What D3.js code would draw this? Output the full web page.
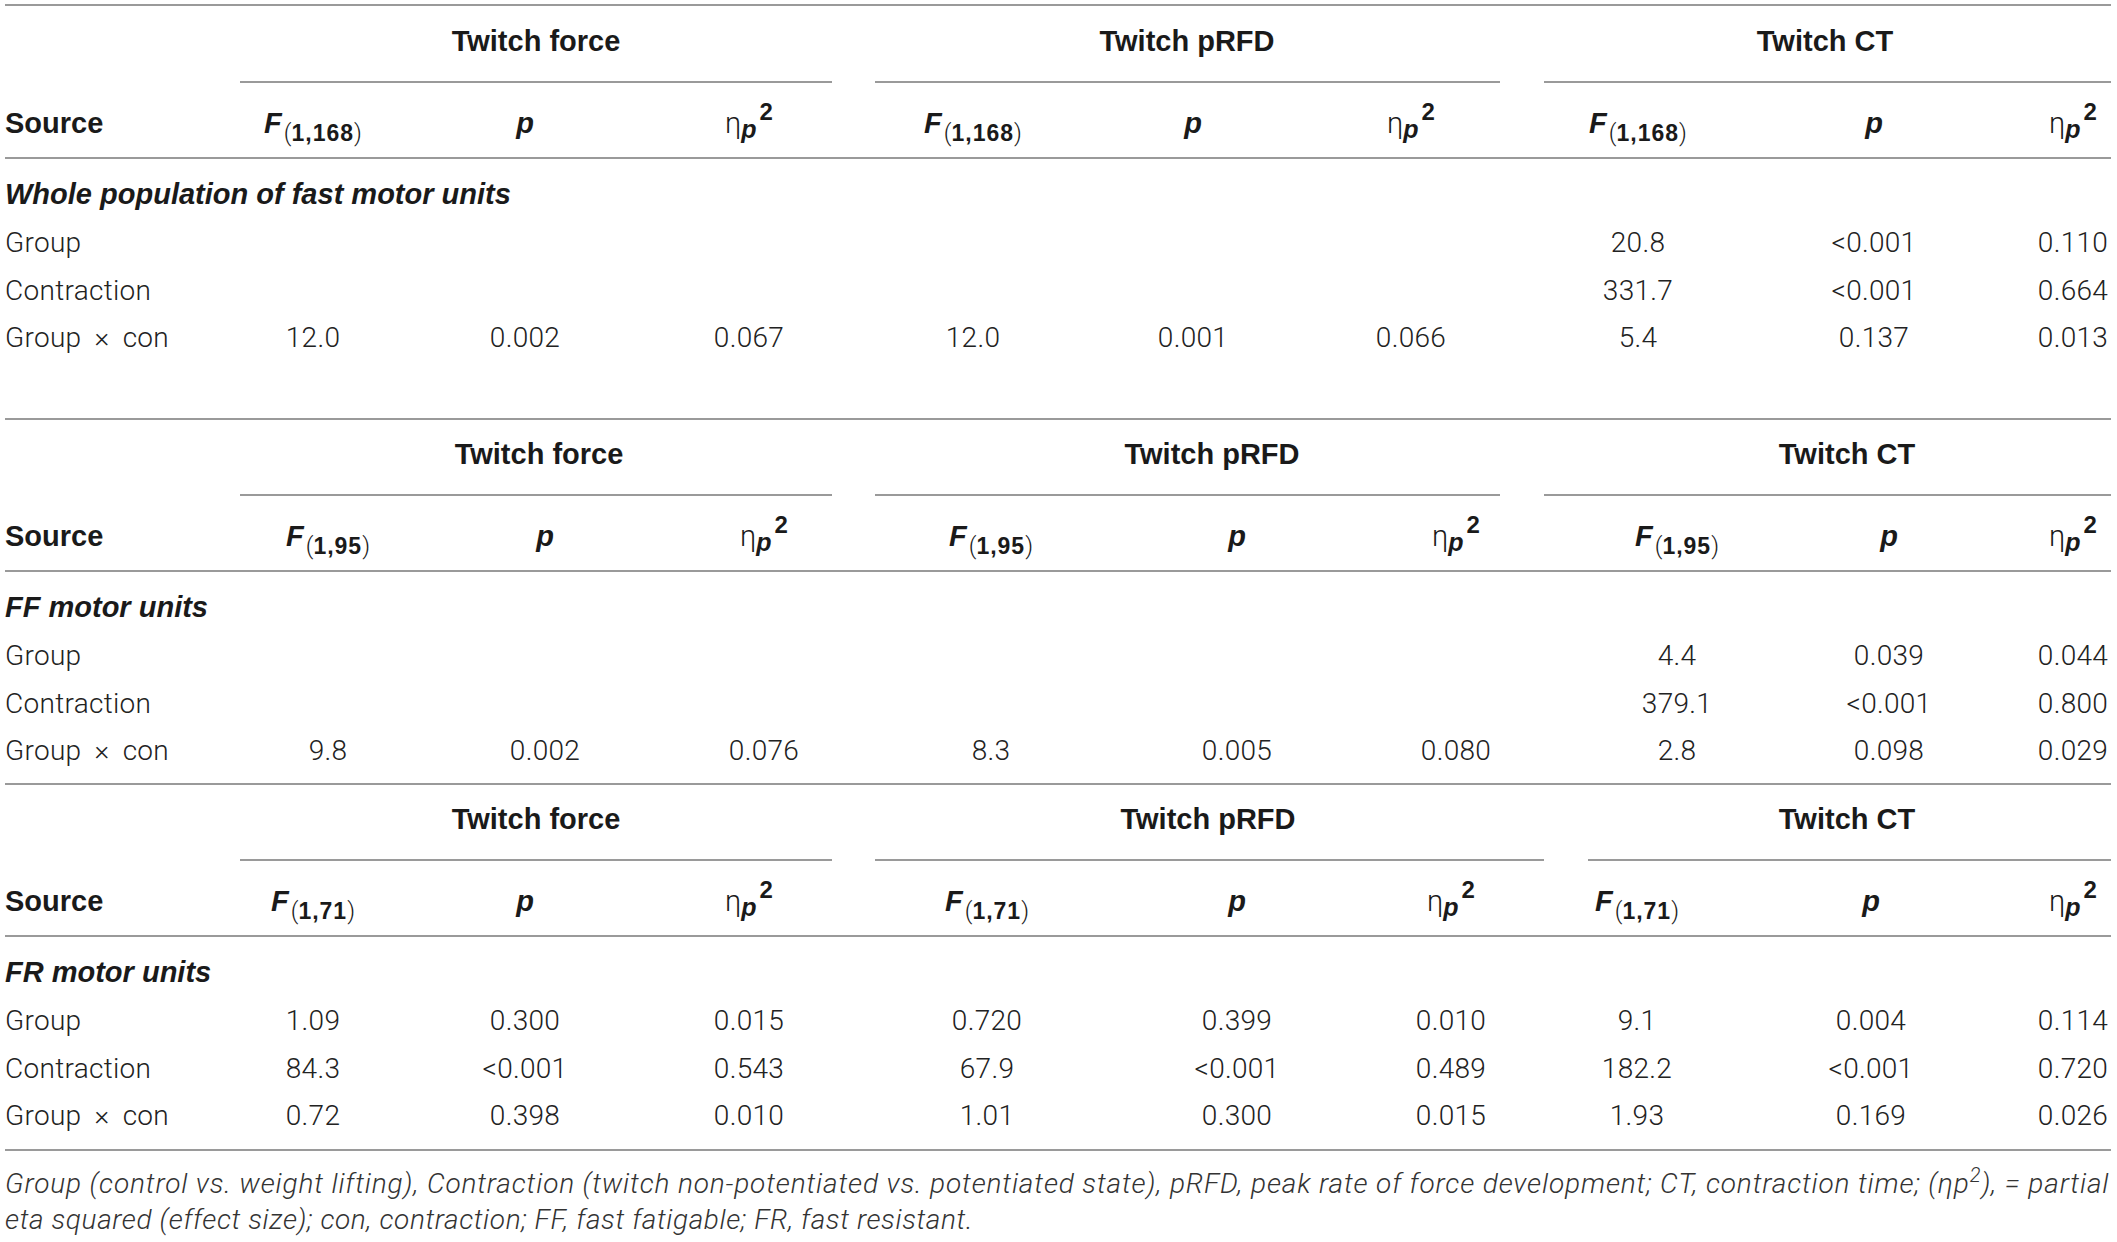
<!DOCTYPE html>
<html>
<head>
<meta charset="utf-8">
<script src="https://cdn.jsdelivr.net/npm/d3@7"></script>
<style>
  body { margin: 0; background: #fff; }
  svg { display: block; }
  .body { font-family: Roboto, "Liberation Sans", sans-serif; font-weight: 300; fill: #222; letter-spacing: 0.3px; word-spacing: 6px; }
  .bold { font-family: "Liberation Sans", Arial, sans-serif; font-weight: bold; fill: #1a1a1a; }
  .note { font-family: Roboto, "Liberation Sans", sans-serif; font-weight: 300; font-style: italic; fill: #333; letter-spacing: 0.6px; }
</style>
</head>
<body>
<div id="chart"></div>
<script>
// table content
var measures = ["Twitch force", "Twitch pRFD", "Twitch CT"];
var sections = ["Whole population of fast motor units", "FF motor units", "FR motor units"];
var degrees = ["1,168", "1,95", "1,71"];
var sources = ["Group", "Contraction", "Group \u00d7 con"];

// per row: F, p, eta for force / pRFD / CT (null = empty cell)
var wholeValues = [
    [null, null, null, null, null, null, "20.8", "<0.001", "0.110"],
    [null, null, null, null, null, null, "331.7", "<0.001", "0.664"],
    ["12.0", "0.002", "0.067", "12.0", "0.001", "0.066", "5.4", "0.137", "0.013"]
];
var ffValues = [
    [null, null, null, null, null, null, "4.4", "0.039", "0.044"],
    [null, null, null, null, null, null, "379.1", "<0.001", "0.800"],
    ["9.8", "0.002", "0.076", "8.3", "0.005", "0.080", "2.8", "0.098", "0.029"]
];
var frValues = [
    ["1.09", "0.300", "0.015", "0.720", "0.399", "0.010", "9.1", "0.004", "0.114"],
    ["84.3", "<0.001", "0.543", "67.9", "<0.001", "0.489", "182.2", "<0.001", "0.720"],
    ["0.72", "0.398", "0.010", "1.01", "0.300", "0.015", "1.93", "0.169", "0.026"]
];
var blockValues = [wholeValues, ffValues, frValues];

var footnote1 = "Group (control vs. weight lifting), Contraction (twitch non-potentiated vs. potentiated state), pRFD, peak rate of force development; CT, contraction time; (\u03b7p";
var footnote1End = "), = partial";
var footnote2 = "eta squared (effect size); con, contraction; FF, fast fatigable; FR, fast resistant.";

function init() {
    var w = 2117, h = 1242;
    var left = 5, right = 2111;

    // layout of the three blocks
    var blockTop = [41, 454, 819];        // centre of the measure headers
    var blockBottom = [419, 784, 1150];   // rule under each block
    var colCenters = [
        [313, 525, 749, 973, 1193, 1411, 1638, 1874, 2073],
        [328, 545, 764, 991, 1237, 1456, 1677, 1889, 2073],
        [313, 525, 749, 987, 1237, 1451, 1637, 1871, 2073]
    ];
    var measureCenters = [[536, 1187, 1825], [539, 1212, 1847], [536, 1208, 1847]];
    var spans = [
        [[240, 832], [875, 1500], [1544, 2111]],
        [[240, 832], [875, 1500], [1544, 2111]],
        [[240, 832], [875, 1544], [1588, 2111]]
    ];

    var svg = d3.select("#chart").append("svg")
        .attr("width", w)
        .attr("height", h)
        .attr("viewBox", [0, 0, w, h]);

    svg.append("rect").attr("width", w).attr("height", h).attr("fill", "#fff");

    function rule(y, x0, x1) {
        svg.append("line")
            .attr("x1", x0).attr("x2", x1)
            .attr("y1", y).attr("y2", y)
            .attr("stroke", "#9a9a9a")
            .attr("stroke-width", 2);
    }

    rule(5, left, right);

    sections.forEach(function(section, b) {
        var top = blockTop[b];
        var col = d3.scaleOrdinal().domain(d3.range(9)).range(colCenters[b]);
        var y = d3.scalePoint().domain(sources).range([top + 201, top + 296]);
        var g = svg.append("g");

        // measure headers and spanning rules
        measures.forEach(function(m, i) {
            g.append("text").attr("class", "bold")
                .attr("x", measureCenters[b][i]).attr("y", top + 10)
                .attr("text-anchor", "middle")
                .style("font-size", "29px")
                .text(m);
            rule(top + 41, spans[b][i][0], spans[b][i][1]);
        });

        // column header row
        var hy = top + 92;
        g.append("text").attr("class", "bold")
            .attr("x", left).attr("y", hy)
            .style("font-size", "29px")
            .text("Source");

        d3.range(9).forEach(function(c) {
            var t = g.append("text").attr("class", "bold")
                .attr("x", col(c)).attr("y", hy)
                .attr("text-anchor", "middle")
                .style("font-size", "29px");
            if (c % 3 === 0) {
                t.append("tspan").style("font-style", "italic").text("F");
                t.append("tspan").attr("dy", 8).attr("dx", 2).style("font-size", "24px")
                    .style("font-family", "Roboto, sans-serif").style("font-weight", 300).text("(");
                t.append("tspan").style("font-size", "23px").style("letter-spacing", "1px").text(degrees[b]);
                t.append("tspan").style("font-size", "24px")
                    .style("font-family", "Roboto, sans-serif").style("font-weight", 300).text(")");
            } else if (c % 3 === 1) {
                t.append("tspan").style("font-style", "italic").text("p");
            } else {
                t.append("tspan").style("font-family", "Roboto, sans-serif")
                    .style("font-weight", 300).style("font-size", "29px").text("\u03b7");
                t.append("tspan").attr("dy", 5).style("font-style", "italic")
                    .style("font-size", "25px").text("p");
                t.append("tspan").attr("dy", -18).attr("dx", 3).style("font-size", "24px").text("2");
            }
        });

        rule(top + 117, left, right);

        // section title
        g.append("text").attr("class", "bold")
            .attr("x", left).attr("y", top + 163)
            .style("font-size", "29px")
            .style("font-style", "italic")
            .text(section);

        // rows
        sources.forEach(function(s, r) {
            g.append("text").attr("class", "body")
                .attr("x", left).attr("y", y(s) + 10)
                .style("font-size", "28px")
                .text(s);
            blockValues[b][r].forEach(function(v, c) {
                if (v === null) return;
                g.append("text").attr("class", "body")
                    .attr("x", col(c)).attr("y", y(s) + 10)
                    .attr("text-anchor", "middle")
                    .style("font-size", "28px")
                    .text(v);
            });
        });

        rule(blockBottom[b], left, right);
    });

    // footnote, first line justified to the table width
    var n1 = svg.append("text").attr("class", "note")
        .attr("x", left).attr("y", 1193)
        .attr("textLength", right - left - 2)
        .attr("lengthAdjust", "spacing")
        .style("font-size", "28px");
    n1.append("tspan").text(footnote1);
    n1.append("tspan").attr("dy", -11).style("font-size", "20px").text("2");
    n1.append("tspan").attr("dy", 11).text(footnote1End);

    svg.append("text").attr("class", "note")
        .attr("x", left).attr("y", 1229)
        .style("font-size", "28px")
        .text(footnote2);
}

window.onload = init;
</script>
</body>
</html>
